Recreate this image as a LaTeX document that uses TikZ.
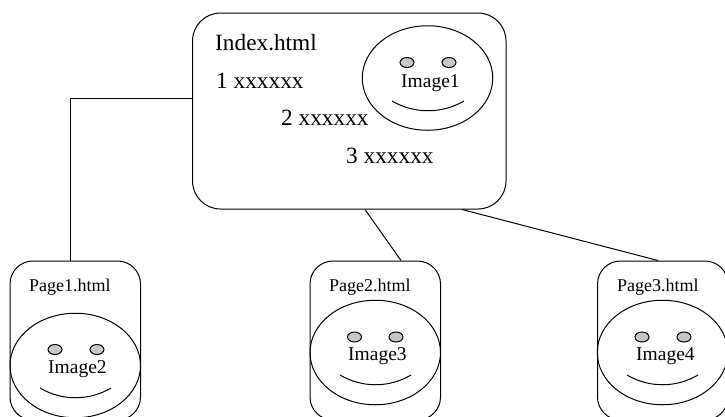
\documentclass[tikz,border=0pt]{standalone}
\usepackage{fontspec}
\setmainfont{Liberation Serif}
\usetikzlibrary{shapes.geometric}
\tikzset{
  line/.style={draw=black,line width=1pt},
  big/.style={inner sep=0pt,anchor=base west,font=\fontsize{23.3}{24}\selectfont},
  med/.style={inner sep=0pt,anchor=base west,font=\fontsize{19.5}{21}\selectfont},
  small/.style={inner sep=0pt,anchor=base west,font=\fontsize{18}{19}\selectfont},
  indexbox/.style={line,rounded corners=28pt,minimum width=313.5pt,minimum height=196pt,inner sep=0pt},
  pagebox/.style={line,rounded corners=23pt,minimum width=130.5pt,minimum height=159pt,inner sep=0pt},
  face/.style={line,ellipse,minimum width=130.5pt,minimum height=104.5pt,inner sep=0pt},
  eye/.style={line,ellipse,fill=black!22,minimum width=14pt,minimum height=10pt,inner sep=0pt}
}
\begin{document}
\begin{tikzpicture}[x=1pt,y=-1pt]
\useasboundingbox (0,0) rectangle (725,416);
\clip (0,0) rectangle (725,416);
% index
\node[indexbox] (index) at (349.25,111) {};
\node[big] (t0) at (215,50) {Index.html};
\node[big] (t1) at (216,88) {1 xxxxxx};
\node[big] (t2) at (281,125) {2 xxxxxx};
\node[big] (t3) at (346,163) {3 xxxxxx};
\node[face] (f1) at (427.5,78) {};
\node[eye] (e1a) at (407,62.5) {};
\node[eye] (e1b) at (449,62.5) {};
\node[med] (i1) at (401,87) {Image1};
\draw[line] (392,101) .. controls (414,114) and (442,114) .. (464,101);
% pages
\node[pagebox] (page1) at (75.25,340.5) {};
\node[small] (p1) at (29,291) {Page1.html};
\node[face] (f2) at (75.25,365.5) {};
\node[eye] (e2a) at (55,349.5) {};
\node[eye] (e2b) at (97,349.5) {};
\node[med] (i2) at (48,373) {Image2};
\draw[line] (40,388) .. controls (62,401) and (89,401) .. (111,388);
\node[pagebox] (page2) at (375.25,340.5) {};
\node[small] (p2) at (329,291) {Page2.html};
\node[face] (f3) at (375.25,352.5) {};
\node[eye] (e3a) at (354.5,337) {};
\node[eye] (e3b) at (396,337) {};
\node[med] (i3) at (348,360) {Image3};
\draw[line] (340,375) .. controls (362,388) and (389,388) .. (411,375);
\node[pagebox] (page3) at (662.75,340.5) {};
\node[small] (p3) at (617,291) {Page3.html};
\node[face] (f4) at (662.5,352.5) {};
\node[eye] (e4a) at (642,337) {};
\node[eye] (e4b) at (684,337) {};
\node[med] (i4) at (636,360) {Image4};
\draw[line] (627,375) .. controls (649,388) and (676,388) .. (698,375);
% connectors
\draw[line] ([yshift=13pt]index.west) -| ([xshift=-5.25pt]page1.north);
\draw[line] ([xshift=15.75pt]index.south) -- ([xshift=25.75pt]page2.north);
\draw[line] ([xshift=112.75pt]index.south) -- ([xshift=-4.75pt]page3.north);
\end{tikzpicture}
\end{document}
